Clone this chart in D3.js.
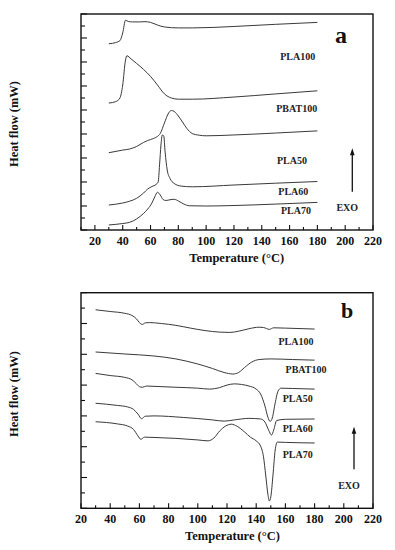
<!DOCTYPE html>
<html><head><meta charset="utf-8">
<script src="https://cdn.jsdelivr.net/npm/d3@7"></script>
<style>html,body{margin:0;padding:0;background:#fff}svg{display:block}</style>
</head><body>
<script>
// ---------- DATA ----------
// Panel a (cooling)  — heat flow in arbitrary offset units
const xTicksA = [20,40,60,80,100,120,140,160,180,200,220];
const xTicksB = [20,40,60,80,100,120,140,160,180,200,220];

const a_PLA100_T = [30,35,38,40,42,44,47,52,56,60,65,70,80,90,120,150,180];
const a_PLA100_Q = [7.76,7.81,7.89,8.21,8.74,8.69,8.67,8.67,8.68,8.65,8.54,8.46,8.42,8.42,8.48,8.57,8.65];
const a_PBAT100_T = [30,35,38,40,42,43,46,50,55,60,65,70,75,80,90,120,150,180];
const a_PBAT100_Q = [5.29,5.35,5.5,6.04,7.08,7.26,7.13,6.94,6.69,6.40,6.04,5.67,5.5,5.45,5.45,5.54,5.67,5.80];
const a_PLA50_T = [30,40,45,50,55,58,62,65,67,70,73,75,77,80,83,86,90,95,100,120,150,180];
const a_PLA50_Q = [3.22,3.33,3.375,3.48,3.65,3.73,3.81,3.90,4.02,4.46,4.875,4.98,4.94,4.75,4.5,4.24,4.02,3.95,3.925,3.96,4.04,4.13];
const a_PLA60_T = [30,40,45,50,55,58,61,64,65.5,66.5,67.5,68.5,69.5,70.5,72,74,77,82,90,120,150,180];
const a_PLA60_Q = [1.04,1.125,1.20,1.32,1.54,1.71,1.81,1.90,2.0,2.71,3.54,3.96,3.92,3.25,2.5,2.15,1.94,1.83,1.80,1.875,1.95,2.02];
const a_PLA70_T = [30,40,45,50,55,58,61,63,65,67,69,71,74,77,80,84,88,100,120,150,180];
const a_PLA70_Q = [0.21,0.27,0.32,0.46,0.69,0.875,1.125,1.375,1.57,1.46,1.27,1.23,1.26,1.28,1.21,1.08,1.01,1.0,1.02,1.08,1.15];

// Panel b (heating)
const b_PLA100_T = [30,40,50,55,58,60,62,64,67,75,85,95,105,115,122,128,135,142,145,149,152,160,180];
const b_PLA100_Q = [6.445,6.39,6.33,6.26,6.15,6.03,5.97,6.02,6.03,6.0,5.94,5.85,5.77,5.72,5.71,5.75,5.83,5.88,5.87,5.81,5.86,5.85,5.82];
const b_PBAT100_T = [30,50,70,85,100,110,118,124,128,132,137,142,150,165,180];
const b_PBAT100_Q = [5.075,5.01,4.945,4.85,4.685,4.54,4.41,4.36,4.41,4.57,4.75,4.83,4.85,4.83,4.81];
const b_PLA50_T = [30,40,50,55,58,60,62,65,70,85,100,108,115,120,125,130,135,140,143,146,148,149.5,151,153,155,157,165,180];
const b_PLA50_Q = [4.38,4.31,4.25,4.17,4.04,3.95,3.93,3.97,3.96,3.93,3.90,3.87,3.92,4.0,4.04,4.02,3.97,3.87,3.71,3.32,2.96,2.82,2.93,3.42,3.81,3.90,3.89,3.87];
const b_PLA60_T = [30,45,52,56,59,61.5,64,70,90,110,118,125,135,143,146,148.5,150.5,152,154,160,180];
const b_PLA60_Q = [3.41,3.34,3.29,3.21,3.06,2.91,2.99,3.0,2.95,2.87,2.83,2.87,2.92,2.90,2.80,2.54,2.38,2.54,2.85,2.89,2.90];
const b_PLA70_T = [30,45,52,56,59,61,63.5,70,85,100,107,111,115,119,123,127,132,136,140,143,145,146.5,148,149,150,151.5,153,154.5,160,180];
const b_PLA70_Q = [2.81,2.74,2.67,2.56,2.35,2.24,2.31,2.30,2.27,2.22,2.19,2.28,2.51,2.67,2.73,2.66,2.48,2.31,2.19,2.02,1.67,1.08,0.46,0.24,0.37,1.08,1.89,2.15,2.14,2.12];

const seriesNames = ["PLA100","PBAT100","PLA50","PLA60","PLA70"];

// ---------- DRAW ----------
const W = 395, H = 550;
const svg = d3.select("body").append("svg").attr("width", W).attr("height", H);
const FONT = "'Liberation Serif','Times New Roman',serif";

function panel(cfg) {
  const g = svg.append("g").attr("transform", `translate(${cfg.left},${cfg.top})`);
  const x = d3.scaleLinear().domain(cfg.xDomain).range([0, cfg.w]);
  const y = d3.scaleLinear().domain(cfg.yDomain).range([cfg.h, 0]);

  // ticks: x major + minor (inward)
  const xMinor = d3.range(cfg.xDomain[0], cfg.xDomain[1] + 0.001, 10).filter(v => v % 20 !== 0);
  g.append("g").selectAll("line.xmaj").data(cfg.xTicks).join("line")
    .attr("x1", d => x(d)).attr("x2", d => x(d)).attr("y1", cfg.h).attr("y2", cfg.h - 5)
    .attr("stroke", "#111").attr("stroke-width", 1.1);
  g.append("g").selectAll("line.xmin").data(xMinor).join("line")
    .attr("x1", d => x(d)).attr("x2", d => x(d)).attr("y1", cfg.h).attr("y2", cfg.h - 3)
    .attr("stroke", "#111").attr("stroke-width", 1.1);
  // y ticks
  const yMaj = d3.range(cfg.yDomain[0], cfg.yDomain[1] + 0.001, 1);
  const yMin = d3.range(cfg.yDomain[0] + 0.5, cfg.yDomain[1], 1);
  g.append("g").selectAll("line").data(yMaj).join("line")
    .attr("x1", 0).attr("x2", 6).attr("y1", d => y(d)).attr("y2", d => y(d))
    .attr("stroke", "#111").attr("stroke-width", 1.1);
  g.append("g").selectAll("line").data(yMin).join("line")
    .attr("x1", 0).attr("x2", 4).attr("y1", d => y(d)).attr("y2", d => y(d))
    .attr("stroke", "#111").attr("stroke-width", 1.1);

  // tick labels
  g.append("g").selectAll("text").data(cfg.xTicks).join("text")
    .attr("x", d => x(d)).attr("y", cfg.h + 14.5)
    .attr("text-anchor", "middle").attr("font-family", FONT).attr("font-weight", "bold")
    .attr("font-size", 12).attr("fill", "#111").text(d => d);

  // curves
  const line = d3.line().x(d => x(d[0])).y(d => y(d[1])).curve(d3.curveMonotoneX);
  cfg.series.forEach(s => {
    g.append("path").datum(d3.zip(s.T, s.Q)).attr("d", line)
      .attr("fill", "none").attr("stroke", "#3a3a3a").attr("stroke-width", 1);
  });

  // frame
  g.append("rect").attr("x", 0).attr("y", 0).attr("width", cfg.w).attr("height", cfg.h)
    .attr("fill", "none").attr("stroke", "#111").attr("stroke-width", 1.4);

  // series labels
  cfg.labels.forEach(l => {
    svg.append("text").attr("x", l[1]).attr("y", l[2]).attr("text-anchor", "middle")
      .attr("font-family", FONT).attr("font-weight", "bold").attr("font-size", 10)
      .attr("fill", "#222").text(l[0]);
  });
  // EXO + arrow
  svg.append("text").attr("x", cfg.exo[0]).attr("y", cfg.exo[1]).attr("text-anchor", "middle")
    .attr("font-family", FONT).attr("font-weight", "bold").attr("font-size", 10)
    .attr("fill", "#222").text("EXO");
  svg.append("line").attr("x1", cfg.arrow[0]).attr("x2", cfg.arrow[0])
    .attr("y1", cfg.arrow[1]).attr("y2", cfg.arrow[2] + 5)
    .attr("stroke", "#111").attr("stroke-width", 1.3);
  svg.append("path").attr("d", `M${cfg.arrow[0]},${cfg.arrow[2]} l-2.3,7 l4.6,0 z`).attr("fill", "#111");

  // panel letter
  svg.append("text").attr("x", cfg.letter[1]).attr("y", cfg.letter[2]).attr("text-anchor", "middle")
    .attr("font-family", FONT).attr("font-weight", "bold").attr("font-size", cfg.letter[3])
    .attr("fill", "#111").text(cfg.letter[0]);

  // axis titles
  svg.append("text").attr("x", cfg.xTitle[0]).attr("y", cfg.xTitle[1]).attr("text-anchor", "middle")
    .attr("font-family", FONT).attr("font-weight", "bold").attr("font-size", 12.5)
    .attr("fill", "#111").text("Temperature (°C)");
  svg.append("text").attr("transform", `translate(${cfg.yTitle[0]},${cfg.yTitle[1]}) rotate(-90)`)
    .attr("text-anchor", "middle")
    .attr("font-family", FONT).attr("font-weight", "bold").attr("font-size", 12.5)
    .attr("fill", "#111").text("Heat flow (mW)");
}

panel({
  left: 81, top: 14, w: 292, h: 216,
  xDomain: [10, 220], yDomain: [0, 9], xTicks: xTicksA,
  series: [
    {T: a_PLA100_T, Q: a_PLA100_Q}, {T: a_PBAT100_T, Q: a_PBAT100_Q},
    {T: a_PLA50_T, Q: a_PLA50_Q}, {T: a_PLA60_T, Q: a_PLA60_Q}, {T: a_PLA70_T, Q: a_PLA70_Q}
  ],
  labels: [[seriesNames[0], 297.7, 60], [seriesNames[1], 296.7, 111.8], [seriesNames[2], 292, 163.5],
           [seriesNames[3], 293.3, 194.5], [seriesNames[4], 296, 214.2]],
  exo: [347.3, 211.2], arrow: [352.3, 191.7, 148.3],
  letter: ["a", 341, 43.3, 24],
  xTitle: [236.7, 262], yTitle: [17.5, 124]
});

panel({
  left: 81, top: 292.7, w: 292, h: 215.6,
  xDomain: [20, 220], yDomain: [0, 7], xTicks: xTicksB,
  series: [
    {T: b_PLA100_T, Q: b_PLA100_Q}, {T: b_PBAT100_T, Q: b_PBAT100_Q},
    {T: b_PLA50_T, Q: b_PLA50_Q}, {T: b_PLA60_T, Q: b_PLA60_Q}, {T: b_PLA70_T, Q: b_PLA70_Q}
  ],
  labels: [[seriesNames[0], 296, 344.5], [seriesNames[1], 306, 372.8], [seriesNames[2], 297.7, 401.8],
           [seriesNames[3], 297.7, 432.2], [seriesNames[4], 297.7, 457.5]],
  exo: [349, 488.5], arrow: [354, 469.3, 426.7],
  letter: ["b", 347, 318.3, 22],
  xTitle: [232.5, 540], yTitle: [17.5, 394]
});
</script>
</body></html>
